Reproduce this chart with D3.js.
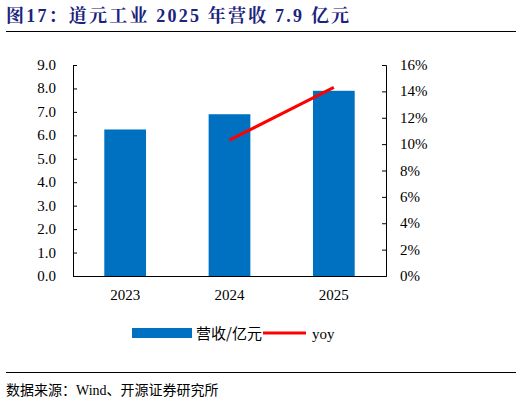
<!DOCTYPE html><html><head><meta charset="utf-8"><script src="https://d3js.org/d3.v7.min.js"></script>
<style>body{margin:0;background:#fff}text{font-family:"Liberation Serif","Noto Sans CJK SC",serif}</style></head><body><svg width="522" height="405"></svg>
<script>
const years=["2023","2024","2025"];
const revenue=[6.25,6.9,7.9];
const yoyYears=["2024","2025"];
const yoy=[10.3,14.3];
const leftTicks=[0,1,2,3,4,5,6,7,8,9];
const rightTicks=[0,2,4,6,8,10,12,14,16];
const svg=d3.select("svg");
const cjk='"Noto Sans CJK SC",sans-serif';
svg.append("text").attr("x",6).attr("y",22).attr("fill","#1a237e").attr("font-weight","bold").attr("font-size",18).attr("letter-spacing",2.2).style("font-family",'"Liberation Serif","Noto Serif CJK SC","Noto Sans CJK SC",serif').text("图17：道元工业 2025 年营收 7.9 亿元");
svg.append("line").attr("x1",6).attr("x2",516).attr("y1",31.5).attr("y2",31.5).attr("stroke","#000");
const x=d3.scaleBand().domain(years).range([73,386]).paddingInner(0.6).paddingOuter(0.3);
const y=d3.scaleLinear().domain([0,9]).range([276,65]);
const y2=d3.scaleLinear().domain([0,16]).range([276,65]);
svg.selectAll(".bar").data(revenue).join("rect").attr("x",(d,i)=>x(years[i])).attr("width",x.bandwidth()).attr("y",d=>y(d)).attr("height",d=>276-y(d)).attr("fill","#0070c0");
const gl=svg.append("g").attr("transform","translate(73,0)").call(d3.axisRight(y).tickValues(leftTicks).tickFormat(d3.format(".1f")).tickSize(4));
gl.selectAll("text").remove();
svg.selectAll(".lt").data(leftTicks).join("text").attr("x",56).attr("y",d=>y(d)+5).attr("text-anchor","end").attr("font-size",15).text(d=>d.toFixed(1));
const gr=svg.append("g").attr("transform","translate(386,0)").call(d3.axisLeft(y2).tickValues(rightTicks).tickSize(4));
gr.selectAll("text").remove();
svg.selectAll(".rt").data(rightTicks).join("text").attr("x",400).attr("y",d=>y2(d)+5).attr("font-size",15).text(d=>d+"%");
const gb=svg.append("g").attr("transform","translate(0,276)").call(d3.axisBottom(x).tickSize(0).tickSizeOuter(0));
gb.select(".domain").attr("stroke","#000");
gb.selectAll("text").attr("font-size",15).attr("dy","1.4em").attr("fill","#000");
[gl,gr].forEach(g=>g.selectAll("path,line").attr("stroke","#000"));
const line=d3.line().x((d,i)=>x(yoyYears[i])+x.bandwidth()/2).y(d=>y2(d));
svg.append("path").datum(yoy).attr("d",line).attr("fill","none").attr("stroke","#ff0000").attr("stroke-width",3);
svg.append("rect").attr("x",132).attr("y",328).attr("width",60).attr("height",10).attr("fill","#0070c0");
svg.append("text").attr("x",196).attr("y",339).attr("font-size",15).style("font-family",cjk).text("营收/亿元");
svg.append("line").attr("x1",263).attr("x2",306).attr("y1",333).attr("y2",333).attr("stroke","#ff0000").attr("stroke-width",3);
svg.append("text").attr("x",312).attr("y",339).attr("font-size",15).text("yoy");
svg.append("line").attr("x1",6).attr("x2",516).attr("y1",372.5).attr("y2",372.5).attr("stroke","#000");
svg.append("text").attr("x",6).attr("y",395).attr("font-size",14).style("font-family",'"Liberation Serif","Noto Sans CJK SC",serif').text("数据来源：Wind、开源证券研究所");
</script></body></html>
